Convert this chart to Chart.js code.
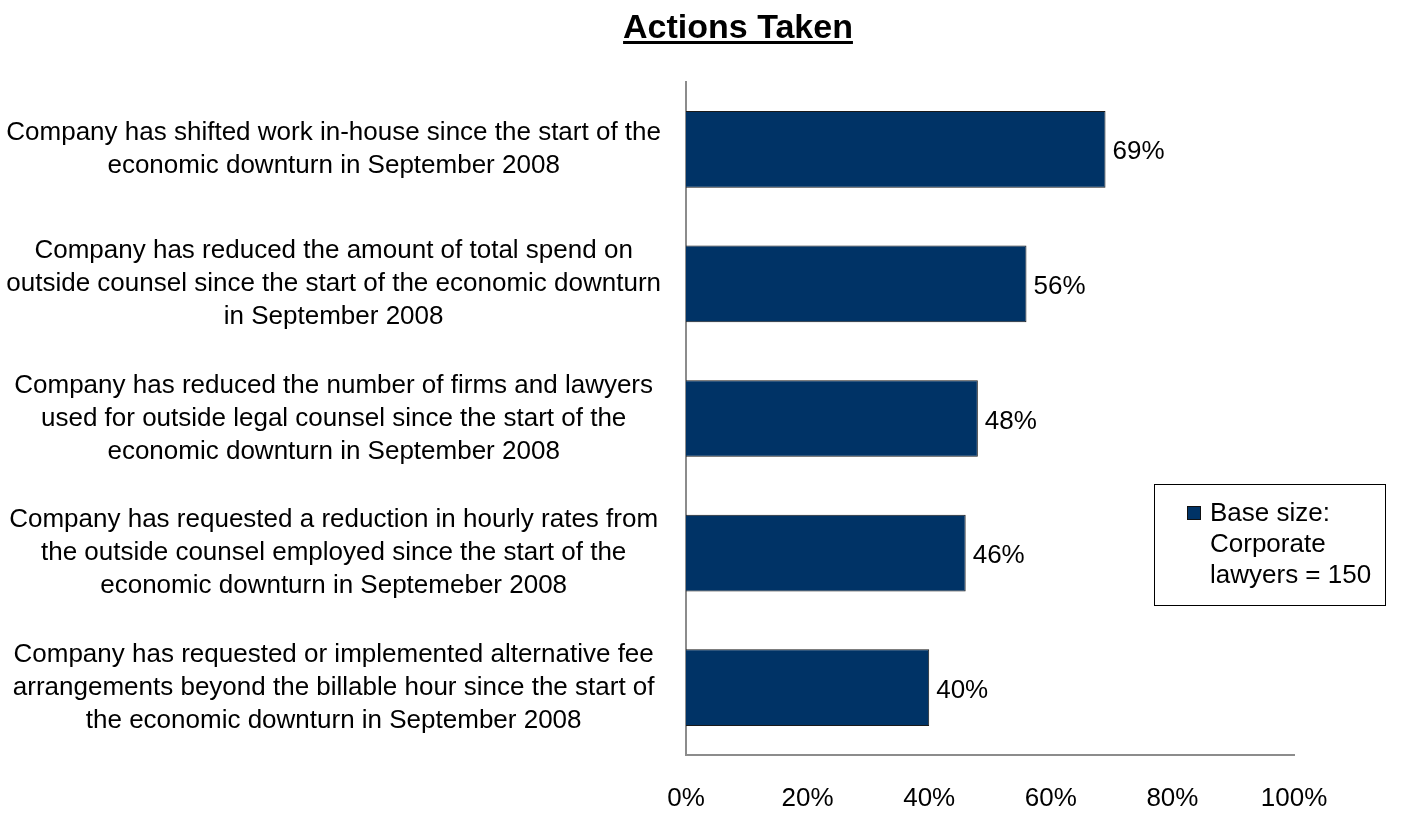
<!DOCTYPE html>
<html>
<head>
<meta charset="utf-8">
<script src="https://cdn.jsdelivr.net/npm/chart.js@4/dist/chart.umd.min.js"></script>
<style>
  html, body { margin: 0; padding: 0; background: #fff; }
  #wrap { position: relative; width: 1403px; height: 815px; }
</style>
</head>
<body>
<div id="wrap"><canvas id="actionsChart" width="1403" height="815"></canvas></div>
<script>
/* ─── Data ─── */
const categories = [
  ["Company has shifted work in-house since the start of the", "economic downturn in September 2008"],
  ["Company has reduced the amount of total spend on", "outside counsel since the start of the economic downturn", "in September 2008"],
  ["Company has reduced the number of firms and lawyers", "used for outside legal counsel since the start of the", "economic downturn in September 2008"],
  ["Company has requested a reduction in hourly rates from", "the outside counsel employed since the start of the", "economic downturn in Septemeber 2008"],
  ["Company has requested or implemented alternative fee", "arrangements beyond the billable hour since the start of", "the economic downturn in September 2008"],
];
const values = [69, 56, 48, 46, 40];
const xTicks = [0, 20, 40, 60, 80, 100];
const legendLines = ["Base size:", "Corporate", "lawyers = 150"];

const FONT = "'Liberation Sans', Arial, sans-serif";
const NAVY = "#003366";

/* ─── Title (bold + underline) ─── */
const titlePlugin = {
  id: "titleUnderline",
  afterDraw(chart) {
    const c = chart.ctx;
    c.save();
    c.font = "bold 34px " + FONT;
    c.fillStyle = "#000";
    c.textAlign = "center";
    c.textBaseline = "alphabetic";
    const txt = "Actions Taken";
    const cx = 738, by = 38;
    c.fillText(txt, cx, by);
    const w = c.measureText(txt).width;
    c.fillRect(cx - w / 2, by + 3, w, 3);
    c.restore();
  },
};

/* ─── Value labels ─── */
const valueLabels = {
  id: "valueLabels",
  afterDatasetsDraw(chart) {
    const c = chart.ctx;
    const meta = chart.getDatasetMeta(0);
    c.save();
    c.font = "26px " + FONT;
    c.fillStyle = "#000";
    c.textAlign = "left";
    c.textBaseline = "middle";
    meta.data.forEach((bar, i) => {
      c.fillText(values[i] + "%", bar.x + 7, bar.y + 3);
    });
    c.restore();
  },
};

/* ─── Legend box ─── */
const legendBox = {
  id: "legendBox",
  afterDraw(chart) {
    const c = chart.ctx;
    c.save();
    c.strokeStyle = "#000";
    c.lineWidth = 1;
    c.strokeRect(1154.5, 484.5, 231, 121);
    c.fillStyle = NAVY;
    c.fillRect(1187, 506, 14, 14);
    c.strokeStyle = "#111";
    c.strokeRect(1187.5, 506.5, 13, 13);
    c.font = "26px " + FONT;
    c.fillStyle = "#000";
    c.textAlign = "left";
    c.textBaseline = "middle";
    legendLines.forEach((t, i) => c.fillText(t, 1210, 514 + i * 31));
    c.restore();
  },
};

new Chart(document.getElementById("actionsChart"), {
  type: "bar",
  data: {
    labels: categories,
    datasets: [
      {
        label: "Base size: Corporate lawyers = 150",
        data: values,
        backgroundColor: NAVY,
        borderColor: "#1a1a1a",
        borderWidth: 1,
        barPercentage: 0.57,
        categoryPercentage: 1,
      },
    ],
  },
  options: {
    indexAxis: "y",
    responsive: false,
    animation: false,
    layout: { padding: { top: 82, right: 109, bottom: 0, left: 0 } },
    plugins: {
      legend: { display: false },
      title: { display: false },
      tooltip: { enabled: false },
    },
    scales: {
      x: {
        min: 0,
        max: 100,
        afterBuildTicks: (s) => { s.ticks = xTicks.map((v) => ({ value: v })); },
        afterFit: (s) => { s.height = 60; },
        grid: { display: false, drawTicks: false },
        border: { color: "#8c8c8c", width: 2 },
        ticks: {
          padding: 28,
          color: "#000",
          font: { family: FONT, size: 26 },
          callback: (v) => v + "%",
        },
      },
      y: {
        afterFit: (s) => { s.width = 686; },
        grid: { display: false, drawTicks: false },
        border: { color: "#8c8c8c", width: 2 },
        ticks: {
          padding: 25,
          crossAlign: "center",
          color: "#000",
          font: { family: FONT, size: 26, lineHeight: 1.27 },
        },
      },
    },
  },
  plugins: [titlePlugin, valueLabels, legendBox],
});
</script>
</body>
</html>
